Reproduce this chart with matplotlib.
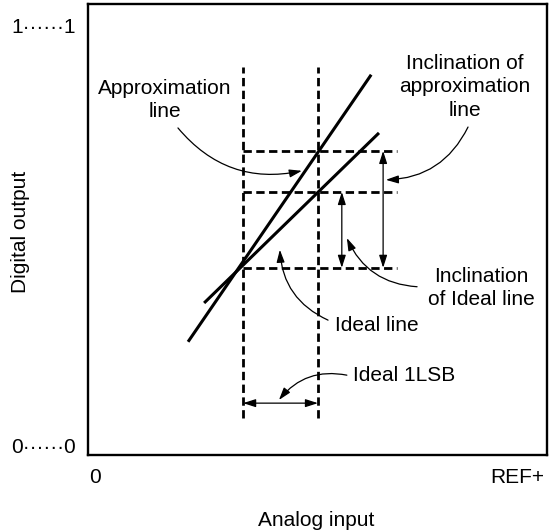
import matplotlib
matplotlib.use("Agg")
import matplotlib.pyplot as plt

plt.rcParams["font.family"] = ["Liberation Sans", "DejaVu Sans"]

# Data (axes units: 0 .. 1 for analog input and digital output)
lsb_x = [0.338, 0.501]              # dashed verticals (ideal 1LSB)
lsb_span = [0.082, 0.860]
levels_y = [0.674, 0.583, 0.415]    # dashed horizontal levels
level_x_end = 0.673

approx_x = [0.218, 0.617]
approx_y = [0.251, 0.843]
ideal_x = [0.253, 0.634]
ideal_y = [0.337, 0.714]

incl_approx_x = 0.643
incl_ideal_x = 0.553
lsb_arrow_y = 0.115

y_ticks = [0.020, 0.953]
y_tick_labels = ["0\u00b7\u00b7\u00b7\u00b7\u00b7\u00b70", "1\u00b7\u00b7\u00b7\u00b7\u00b7\u00b71"]
x_ticks = [0.015, 0.935]
x_tick_labels = ["0", "REF+"]

FS = 15

fig = plt.figure(figsize=(5.49, 5.32), dpi=100)
ax = fig.add_axes([0.1603, 0.1447, 0.836, 0.848])
ax.set_xlim(0, 1)
ax.set_ylim(0, 1)
for s in ax.spines.values():
    s.set_linewidth(1.7)

ax.set_xticks(x_ticks)
ax.set_xticklabels(x_tick_labels, fontsize=FS)
ax.set_yticks(y_ticks)
ax.set_yticklabels(y_tick_labels, fontsize=FS)
ax.tick_params(length=0, pad=9)
fig.text(316 / 549, 1 - 521 / 532, "Analog input", fontsize=FS, ha="center", va="center")
fig.text(20 / 549, 1 - 232 / 532, "Digital output", fontsize=FS, ha="center", va="center",
         rotation=90)

dash = (0, (3.0, 1.6))
for x in lsb_x:
    ax.plot([x, x], lsb_span, color="black", lw=2.0, linestyle=dash)
for y in levels_y:
    ax.plot([lsb_x[0], level_x_end], [y, y], color="black", lw=2.0, linestyle=dash)

ax.plot(approx_x, approx_y, color="black", lw=2.2, solid_capstyle="butt")
ax.plot(ideal_x, ideal_y, color="black", lw=2.2, solid_capstyle="butt")

dbl = dict(arrowstyle="<|-|>,head_length=0.75,head_width=0.24", color="black",
           lw=0.9, shrinkA=0, shrinkB=0, mutation_scale=10)
ax.annotate("", xy=(incl_approx_x, levels_y[0]), xytext=(incl_approx_x, levels_y[2]), arrowprops=dbl)
ax.annotate("", xy=(incl_ideal_x, levels_y[1]), xytext=(incl_ideal_x, levels_y[2]), arrowprops=dbl)
ax.annotate("", xy=(lsb_x[0], lsb_arrow_y), xytext=(lsb_x[1], lsb_arrow_y), arrowprops=dbl)


def callout(xy, xytext, rad):
    ax.annotate("", xy=xy, xytext=xytext,
                arrowprops=dict(arrowstyle="-|>,head_length=0.75,head_width=0.24",
                                color="black", lw=0.9, shrinkA=0, shrinkB=0,
                                mutation_scale=10,
                                connectionstyle=f"arc3,rad={rad}"))


ax.text(0.168, 0.787, "Approximation\nline", fontsize=FS, ha="center", va="center",
        linespacing=1.3)
callout((0.466, 0.630), (0.196, 0.725), 0.3)

ax.text(0.821, 0.816, "Inclination of\napproximation\nline", fontsize=FS, ha="center",
        va="center", linespacing=1.3)
callout((0.649, 0.610), (0.828, 0.727), -0.3)

ax.text(0.858, 0.370, "Inclination\nof Ideal line", fontsize=FS, ha="center", va="center",
        linespacing=1.3)
callout((0.564, 0.481), (0.717, 0.373), -0.3)

ax.text(0.538, 0.288, "Ideal line", fontsize=FS, ha="left", va="center")
callout((0.418, 0.455), (0.523, 0.299), -0.3)

ax.text(0.577, 0.177, "Ideal 1LSB", fontsize=FS, ha="left", va="center")
callout((0.416, 0.122), (0.564, 0.177), 0.3)

fig.savefig("out.png", dpi=100)
